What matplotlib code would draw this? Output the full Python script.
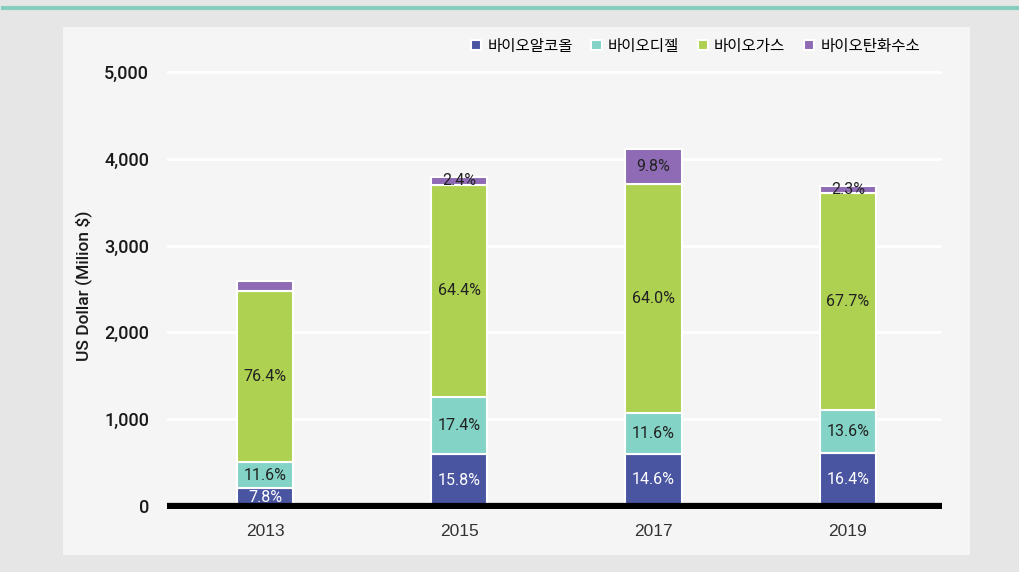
import matplotlib
matplotlib.use("Agg")
import matplotlib.pyplot as plt
from matplotlib.patches import Rectangle
from matplotlib.lines import Line2D

# 데이터 (단위: Million $)
years = ["2013", "2015", "2017", "2019"]
series_names = ["바이오알코올", "바이오디젤", "바이오가스", "바이오탄화수소"]
alcohol = [202, 599, 600, 605]
diesel = [300, 659, 477, 501]
gas = [1979, 2441, 2632, 2496]
hydrogen = [109, 91, 403, 85]

alcohol_pct = ["7.8%", "15.8%", "14.6%", "16.4%"]
diesel_pct = ["11.6%", "17.4%", "11.6%", "13.6%"]
gas_pct = ["76.4%", "64.4%", "64.0%", "67.7%"]
hydrogen_pct = ["", "2.4%", "9.8%", "2.3%"]

y_ticks = [0, 1000, 2000, 3000, 4000, 5000]

colors = ["#4a55a2", "#83d3c6", "#aed152", "#8f6bb5"]
text_colors = ["white", "#222222", "#222222", "#222222"]

plt.rcParams['font.family'] = ['Noto Sans CJK KR', 'DejaVu Sans']

W, H = 1019, 572
fig = plt.figure(figsize=(W / 100, H / 100), dpi=100)
fig.patch.set_facecolor("#e6e6e6")

# 안쪽 패널과 위쪽 선
fig.patches.append(Rectangle((63 / W, 1 - 555 / H), (970 - 63) / W, (555 - 27) / H,
                             transform=fig.transFigure, facecolor="#f5f5f5",
                             edgecolor="none", zorder=-10))
fig.lines.append(Line2D([3 / W, 1.0], [1 - 7.5 / H, 1 - 7.5 / H], transform=fig.transFigure,
                        color="#86cfc0", lw=3, zorder=-10))

ymin, ymax = -30, 5100
px_per = 86.8 / 1000
bottom_px = 506 + (-ymin) * px_per
ax = fig.add_axes([167 / W, 1 - bottom_px / H, (942 - 167) / W, (ymax - ymin) * px_per / H])
ax.set_facecolor("none")

x = list(range(len(years)))
stack = [alcohol, diesel, gas, hydrogen]
labels = [alcohol_pct, diesel_pct, gas_pct, hydrogen_pct]
bottoms = [0] * len(years)
for vals, lab, c, tc, name in zip(stack, labels, colors, text_colors, series_names):
    bars = ax.bar(x, vals, bottom=bottoms, width=0.29, color=c, edgecolor="white",
                  linewidth=1.5, label=name, zorder=3)
    for i, b in enumerate(bars):
        if lab[i]:
            ax.text(b.get_x() + b.get_width() / 2, bottoms[i] + vals[i] / 2, lab[i],
                    ha="center", va="center", fontsize=11.5, color=tc,
                    family=['Roboto', 'DejaVu Sans'], zorder=4)
    bottoms = [bo + v for bo, v in zip(bottoms, vals)]

ax.set_xlim(-0.504, 3.484)
ax.set_ylim(ymin, ymax)
ax.set_yticks(y_ticks)
ax.set_yticklabels([f"{t:,}" for t in y_ticks], fontsize=13, color="#1a1a1a",
                   family=['Roboto', 'DejaVu Sans'], fontweight="medium")
ax.set_xticks(x)
ax.set_xticklabels(years, fontsize=12.5, color="#333333", family=['Liberation Sans', 'DejaVu Sans'])
ax.tick_params(length=0)
ax.tick_params(axis="y", pad=13)
ax.tick_params(axis="x", pad=11)
for s in ax.spines.values():
    s.set_visible(False)
ax.grid(axis="y", color="white", lw=2, zorder=1)
ax.axhline(0, color="black", lw=4.5, zorder=5)

ax.set_ylabel("US Dollar (Milion $)", fontsize=12.5, color="#1a1a1a", fontweight="medium",
              family=['Roboto', 'DejaVu Sans'], labelpad=8)

fig.legend(loc="center right", bbox_to_anchor=(934 / W, 1 - 46 / H), ncol=4,
           frameon=False, fontsize=11.2, handlelength=0.65, handleheight=0.65,
           handletextpad=0.4, columnspacing=1.2)

fig.savefig("out.png", dpi=100, facecolor=fig.get_facecolor())
